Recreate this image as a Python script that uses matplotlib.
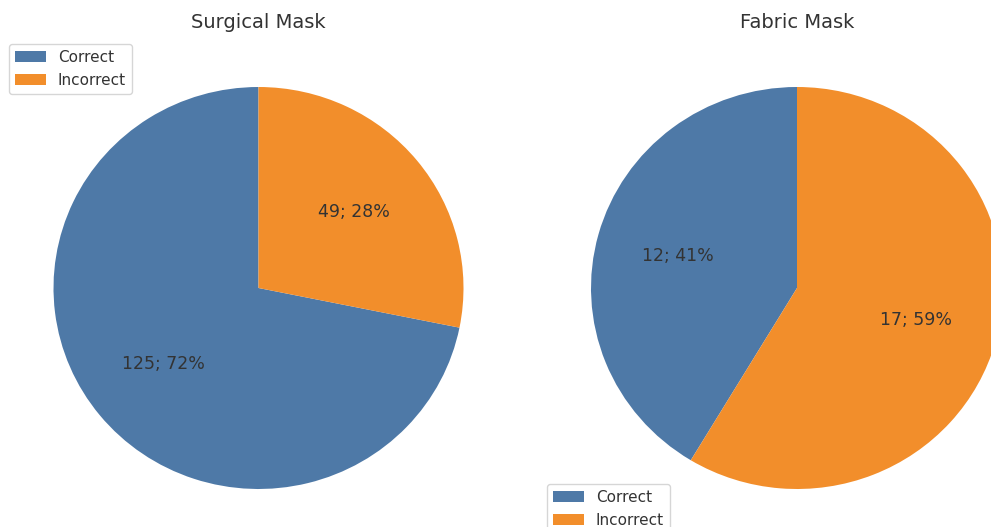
import matplotlib.pyplot as plt

plt.rcParams['font.family'] = ['DejaVu Sans']

labels = ['Correct', 'Incorrect']
surgical = [125, 49]
fabric = [12, 17]
titles = ['Surgical Mask', 'Fabric Mask']
colors = ['#4e79a7', '#f28e2b']
txt = '#333333'

W, H = 991, 527
fig = plt.figure(figsize=(W / 100, H / 100), dpi=100)


def px_axes(x0, y0, x1, y1):
    # pixel box (top-left origin) -> figure axes
    return fig.add_axes([x0 / W, 1 - y1 / H, (x1 - x0) / W, (y1 - y0) / H])


def make_label(vals):
    total = sum(vals)
    def f(p):
        n = int(round(p * total / 100))
        return '%d; %.0f%%' % (n, p)
    return f


boxes = [(53.5, 87, 463.5, 489), (591, 87, 1003, 489)]
legend_pos = [(9, 44), (547, 484)]

for vals, title, box, lp in zip([surgical, fabric], titles, boxes, legend_pos):
    ax = px_axes(*box)
    wedges, _, autotexts = ax.pie(vals, colors=colors, startangle=90,
                                  autopct=make_label(vals), pctdistance=0.6,
                                  textprops={'color': txt, 'fontsize': 12.5})
    ax.set_aspect('auto')
    ax.set_xlim(-1, 1)
    ax.set_ylim(-1, 1)
    ax.set_title(title, fontsize=14, color=txt, y=1 + 51 / (box[3] - box[1]))
    leg = fig.legend(wedges, labels, loc='upper left',
                     bbox_to_anchor=(lp[0] / W, 1 - lp[1] / H),
                     bbox_transform=fig.transFigure, fontsize=11,
                     frameon=True, borderaxespad=0)
    leg.get_frame().set_edgecolor('#cccccc')
    for t in leg.get_texts():
        t.set_color(txt)

fig.savefig('out.png', dpi=100)
